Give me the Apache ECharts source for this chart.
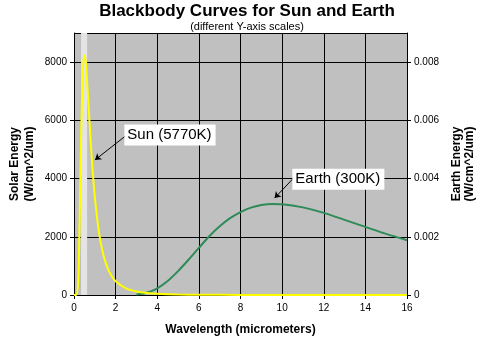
<!DOCTYPE html>
<html><head><meta charset="utf-8">
<script src="https://cdn.jsdelivr.net/npm/echarts@6/dist/echarts.min.js"></script>
<style>html,body{margin:0;padding:0;background:#fff}#c{width:480px;height:344px}</style>
</head><body><div id="c"></div>
<script>
var xTicks = [0, 2, 4, 6, 8, 10, 12, 14, 16];
var sunWavelength = [0, 0.1, 0.2, 0.25, 0.3, 0.35, 0.4, 0.45, 0.5, 0.55, 0.6, 0.7, 0.8, 0.9, 1.0, 1.2, 1.4, 1.6, 1.8, 2.0, 2.5, 3.0, 3.5, 4.0, 5.0, 6.0, 8.0, 10, 12, 14, 16];
var sunEnergy = [0, 0, 450, 1780, 3780, 5740, 7180, 7990, 8230, 8080, 7660, 6500, 5290, 4230, 3370, 2150, 1410, 950, 660, 470, 225, 120, 70, 42, 18, 9, 3, 1, 0, 0, 0];
var earthWavelength = [3.0, 3.5, 4.0, 4.5, 5.0, 5.5, 6.0, 6.5, 7.0, 7.5, 8.0, 8.5, 9.0, 9.5, 10, 11, 12, 13, 14, 15, 16];
var earthEnergy = [0.00002, 0.00008, 0.00023, 0.00048, 0.00082, 0.00121, 0.00162, 0.00202, 0.00236, 0.00264, 0.00285, 0.00300, 0.00309, 0.00313, 0.00312, 0.00301, 0.00282, 0.00258, 0.00234, 0.00210, 0.00188];
var visibleBand = [0.34, 0.63];
var sunLabel = "Sun (5770K)";
var earthLabel = "Earth (300K)";

var sunData = sunWavelength.map(function(x, i){ return [x, sunEnergy[i]]; });
var earthData = earthWavelength.map(function(x, i){ return [x, earthEnergy[i]]; });

var chart = echarts.init(document.getElementById('c'), null, {renderer: 'canvas'});
var font = 'Liberation Sans, Arial, sans-serif';
var labelBox = {
  show: true, position: 'right', distance: 0, color: '#000', fontFamily: font, fontSize: 15,
  backgroundColor: '#fff', padding: [2, 4, 1, 3], lineHeight: 18
};
chart.setOption({
  animation: false,
  backgroundColor: '#fff',
  title: [
    {text: 'Blackbody Curves for Sun and Earth', left: 242, textAlign: 'center', top: -2,
     textStyle: {fontFamily: font, fontSize: 17, fontWeight: 'bold', color: '#000'}},
    {text: '(different Y-axis scales)', left: 242, textAlign: 'center', top: 16,
     textStyle: {fontFamily: font, fontSize: 11, fontWeight: 'normal', color: '#000'}}
  ],
  grid: {left: 74, right: 73, top: 33, bottom: 49, show: true, backgroundColor: '#c0c0c0', borderWidth: 0,
         containLabel: false, outerBoundsMode: 'none'},
  xAxis: {
    type: 'value', min: 0, max: 16, interval: 2,
    name: 'Wavelength (micrometers)', nameLocation: 'middle', nameGap: 29,
    nameTextStyle: {fontFamily: font, fontSize: 12, fontWeight: 'bold', color: '#000'},
    axisLine: {show: true, lineStyle: {color: '#000', width: 1}},
    axisTick: {show: true, inside: false, length: 4, lineStyle: {color: '#000'}},
    axisLabel: {fontFamily: font, fontSize: 10, color: '#000', margin: 8,
      formatter: function(v){ return xTicks.indexOf(v) >= 0 ? String(v) : ''; }},
    splitLine: {show: true, lineStyle: {color: '#000', width: 1}}
  },
  yAxis: [
    {type: 'value', min: 0, max: 9000, interval: 2000, position: 'left',
     name: 'Solar Energy\n(W/cm^2/um)', nameLocation: 'middle', nameGap: 37, nameRotate: 90,
     nameMoveOverlap: false,
     nameTextStyle: {fontFamily: font, fontSize: 12, fontWeight: 'bold', color: '#000', lineHeight: 15},
     axisLine: {show: true, lineStyle: {color: '#000'}},
     axisTick: {show: true, inside: false, length: 4, lineStyle: {color: '#000'}},
     axisLabel: {fontFamily: font, fontSize: 10, color: '#000', margin: 7, showMaxLabel: false,
       formatter: function(v){ return String(v); }},
     splitLine: {show: true, lineStyle: {color: '#000', width: 1}}},
    {type: 'value', min: 0, max: 0.009, interval: 0.002, position: 'right',
     name: 'Earth Energy\n(W/cm^2/um)', nameLocation: 'middle', nameGap: 42, nameRotate: 90,
     nameTextStyle: {fontFamily: font, fontSize: 12, fontWeight: 'bold', color: '#000', lineHeight: 13},
     axisLine: {show: true, lineStyle: {color: '#000'}},
     axisTick: {show: true, inside: false, length: 4, lineStyle: {color: '#000'}},
     axisLabel: {fontFamily: font, fontSize: 10, color: '#000', margin: 7, showMaxLabel: false,
       formatter: function(v){ return v === 0 ? '0' : v.toFixed(3); }},
     splitLine: {show: false}}
  ],
  series: [
    {type: 'line', name: 'Sun', yAxisIndex: 0, data: sunData, smooth: 0.3, showSymbol: false,
     lineStyle: {color: '#ffff00', width: 2}, z: 3,
     markArea: {silent: true, itemStyle: {color: '#e4e4e4'},
       data: [[{xAxis: visibleBand[0]}, {xAxis: visibleBand[1]}]]},
     markPoint: {symbol: 'circle', symbolSize: 0, silent: true,
       data: [{coord: [2.42, 5500], label: Object.assign({formatter: sunLabel}, labelBox)}]},
     markLine: {silent: true, symbol: ['none', 'arrow'], symbolSize: 6,
       lineStyle: {color: '#000', width: 1, type: 'solid'}, label: {show: false},
       data: [[{coord: [2.45, 5450]}, {coord: [1.01, 4640]}]]}
    },
    {type: 'line', name: 'Earth', yAxisIndex: 1, data: earthData, smooth: 0.3, showSymbol: false,
     lineStyle: {color: '#2e8b57', width: 2}, z: 2,
     markPoint: {symbol: 'circle', symbolSize: 0, silent: true,
       data: [{coord: [10.49, 0.00398], label: Object.assign({formatter: earthLabel}, labelBox)}]},
     markLine: {silent: true, symbol: ['none', 'arrow'], symbolSize: 6,
       lineStyle: {color: '#000', width: 1, type: 'solid'}, label: {show: false},
       data: [[{coord: [10.5, 0.00398]}, {coord: [9.64, 0.00333]}]]}
    }
  ]
});
</script></body></html>
